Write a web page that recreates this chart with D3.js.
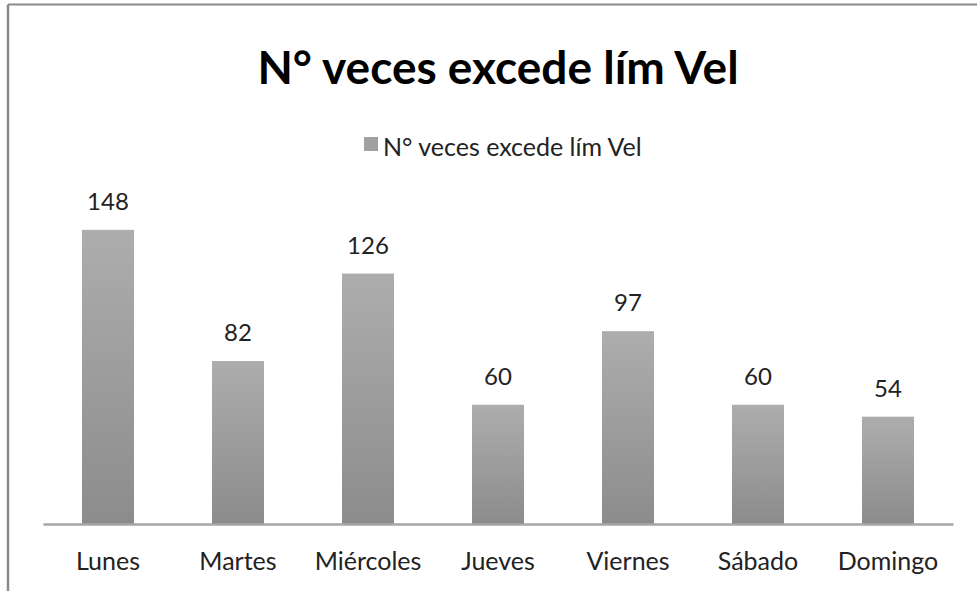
<!DOCTYPE html>
<html><head><meta charset="utf-8">
<script src="https://cdn.jsdelivr.net/npm/d3@7"></script>
<style>body{margin:0;background:#fff}svg{display:block}</style>
</head><body>
<script>
const categories = ["Lunes","Martes","Miércoles","Jueves","Viernes","Sábado","Domingo"];
const values = [148,82,126,60,97,60,54];
const seriesName = "N° veces excede lím Vel";
const titleText = "N° veces excede lím Vel";

const W = 977, H = 591;
const svg = d3.select("body").append("svg").attr("width", W).attr("height", H);
const font = "Lato, 'Open Sans', sans-serif";

// frame (partially cropped)
svg.append("line").attr("x1",8).attr("y1",4.5).attr("x2",W).attr("y2",4.5).attr("stroke","#8a8a8a").attr("stroke-width",2);
svg.append("line").attr("x1",8).attr("y1",4.5).attr("x2",8).attr("y2",H).attr("stroke","#8a8a8a").attr("stroke-width",2.5);

const defs = svg.append("defs");
const g = defs.append("linearGradient").attr("id","barGrad").attr("x1",0).attr("y1",0).attr("x2",0).attr("y2",1);
g.append("stop").attr("offset","0%").attr("stop-color","#adadad");
g.append("stop").attr("offset","100%").attr("stop-color","#8c8c8c");

const x = d3.scaleBand().domain(categories).range([43,953]).paddingInner(0.6).paddingOuter(0.3);
const y = d3.scaleLinear().domain([0,160]).range([524,206]);

// title
svg.append("text").attr("x",498).attr("y",84).attr("text-anchor","middle")
  .attr("font-family",font).attr("font-weight","bold").attr("font-size",46).attr("fill","#000")
  .text(titleText);

// legend
svg.append("rect").attr("x",364).attr("y",137).attr("width",14).attr("height",14).attr("fill","#a0a0a0");
svg.append("text").attr("x",383).attr("y",156).attr("font-family",font).attr("font-size",25).attr("fill","#222").text(seriesName);

// bars
svg.selectAll("rect.bar").data(values).enter().append("rect").attr("class","bar")
  .attr("x",(d,i)=>x(categories[i])).attr("width",x.bandwidth())
  .attr("y",d=>y(d)).attr("height",d=>y(0)-y(d)).attr("fill","url(#barGrad)");

// value labels
svg.selectAll("text.val").data(values).enter().append("text").attr("class","val")
  .attr("x",(d,i)=>x(categories[i])+x.bandwidth()/2).attr("y",d=>y(d)-20)
  .attr("text-anchor","middle").attr("font-family",font).attr("font-size",24).attr("fill","#222")
  .text(d=>d);

// axis
const ax = svg.append("g").attr("transform","translate(0,524)")
  .call(d3.axisBottom(x).tickSize(0).tickPadding(0));
ax.select(".domain").attr("stroke","#a6a6a6").attr("stroke-width",2.5);
ax.selectAll(".tick text").attr("font-family",font).attr("font-size",25).attr("fill","#222")
  .attr("dy",null).attr("y",46);
</script>
</body></html>
